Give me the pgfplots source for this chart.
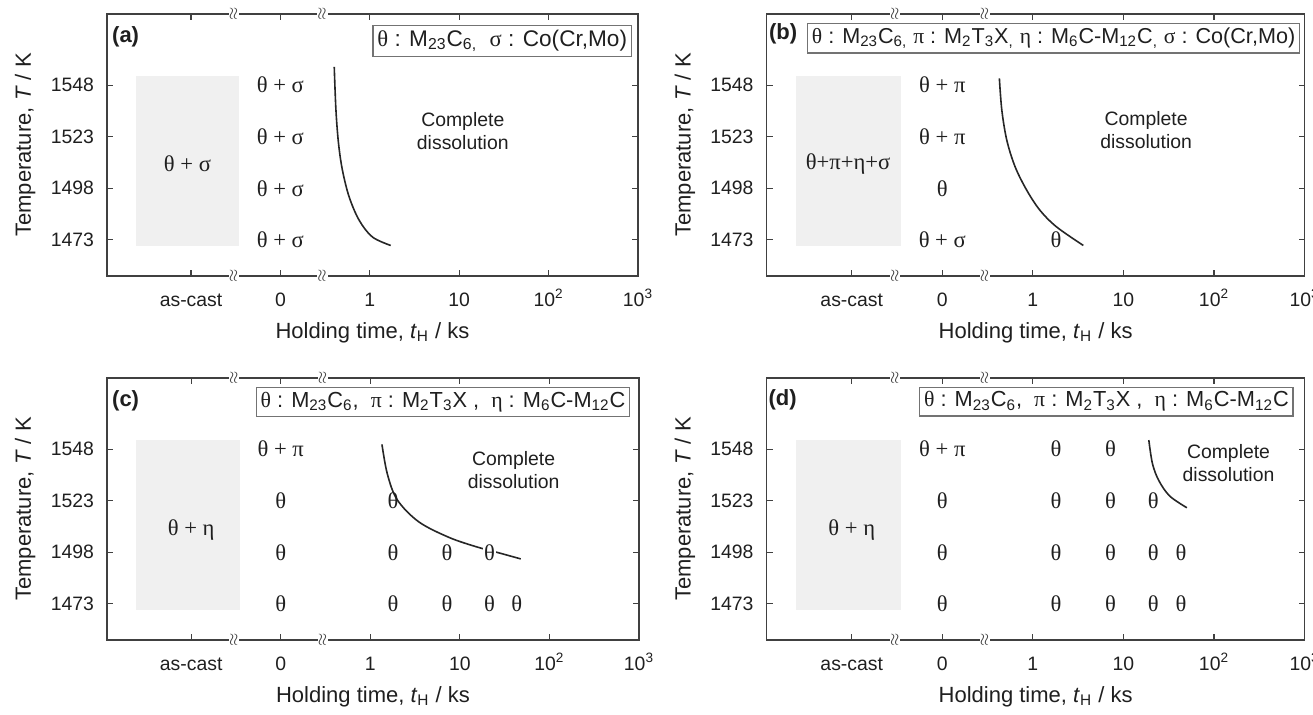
\documentclass[border=0pt]{standalone}
\usepackage{fontspec}
\setmainfont{Liberation Sans}
\newfontfamily\grk{Liberation Serif}
\usepackage{pgfplots}
\pgfplotsset{compat=1.18}
\definecolor{boxgray}{gray}{0.94}
\definecolor{axcol}{gray}{0.25}
\definecolor{txt}{gray}{0.12}
\definecolor{legcol}{gray}{0.45}
\newcommand\tickfont{\fontsize{9.7}{11.5}\selectfont}
\newcommand\labfont{\fontsize{11}{13}\selectfont}
\newcommand\grkfont{\grk\fontsize{11.3}{13}\selectfont}
\pgfplotsset{
  panel/.style={
    scale only axis, height=131pt,
    xmin=-2.94, xmax=3, ymin=1455.5, ymax=1582.5,
    xtick={-2,-1,0,1,2,3},
    xticklabels={as-cast,0,1,10,10\textsuperscript{2},10\textsuperscript{3}},
    ytick={1473,1498,1523,1548},
    yticklabels={1473,1498,1523,1548},
    xtick pos=both, ytick pos=both,
    xticklabel pos=lower, yticklabel pos=left,
    tick align=inside, major tick length=3pt,
    tick style={axcol, line width=0.6pt},
    axis line style={axcol, line width=0.8pt},
    xticklabel style={font=\tickfont, text=txt, text height=7pt, text depth=0pt, yshift=-4.5pt},
    yticklabel style={font=\tickfont, text=txt, xshift=-3pt},
    xlabel={Holding time, \textit{t}\textsubscript{H} / ks},
    ylabel={Temperature, \textit{T} / K},
    every axis x label/.style={at={(axis description cs:0.5,-0.215)}, anchor=center, font=\labfont, text=txt},
    every axis y label/.style={at={(axis description cs:-0.152,0.5)}, rotate=90, anchor=center, font=\labfont, text=txt},
    clip=false,
  },
  castbox/.style={fill=boxgray, draw=none, mark=none},
  curve/.style={smooth, tension=0.55, black!85, line width=0.8pt, mark=none},
  lab/.style={draw=none, mark=none, nodes near coords, point meta=explicit symbolic,
    nodes near coords align=center,
    every node near coord/.append style={font=\grkfont, text=txt, inner sep=0.5pt, anchor=center}},
  labw/.style={lab, every node near coord/.append style={fill=white}},
}
\tikzset{
  brk/.style={fill=white, inner sep=0.5pt, rotate=90, font=\fontsize{8}{8}\selectfont, text=axcol},
  leg/.style={draw=legcol, line width=0.7pt, fill=white, inner sep=2.2pt, text=txt},
  plab/.style={anchor=north west, inner sep=0pt, font=\bfseries\fontsize{11}{13}\selectfont, text=txt},
  cdis/.style={align=center, font=\fontsize{9.7}{11.5}\selectfont, text=txt},
}
\begin{document}
\begin{tikzpicture}
\useasboundingbox (0,0) rectangle (656.5pt,357.5pt);
% ---------------- (a)
\begin{axis}[panel, width=265.5pt, at={(53.5pt,219.5pt)}, anchor=south west,
  every axis y label/.style={at={(axis description cs:-0.154,0.5)}, rotate=90, anchor=center, font=\labfont, text=txt}]
\addplot[castbox] coordinates {(-2.62,1470) (-1.46,1470) (-1.46,1552.5) (-2.62,1552.5)} -- cycle;
\addplot[curve] coordinates {(-0.398,1556.9) (-0.379,1535.9) (-0.350,1519.7) (-0.306,1506.7) (-0.231,1493.8) (-0.119,1482.5) (0.029,1474.4) (0.234,1470.3)};
\addplot[lab] coordinates {(-1,1548) [θ + σ] (-1,1523) [θ + σ] (-1,1498) [θ + σ] (-1,1473) [θ + σ]};
\node[font=\grkfont, text=txt] at (axis cs:-2.04,1510) {θ + σ};
\node[cdis] at (axis cs:1.04,1525.7) {Complete\\dissolution};
\node[leg, anchor=north east, font=\fontsize{11.3}{13}\selectfont] at (rel axis cs:0.989,0.958)
  {{\grk θ} : M\textsubscript{23}C\textsubscript{6,}\ \ {\grk σ} : Co(Cr,Mo)};
\node[plab] at (rel axis cs:0.009,0.952) {(a)};
\coordinate (aT1) at (axis cs:-1.52,1582.5); \coordinate (aT2) at (axis cs:-0.53,1582.5);
\coordinate (aB1) at (axis cs:-1.52,1455.5); \coordinate (aB2) at (axis cs:-0.53,1455.5);
\end{axis}
% ---------------- (b)
\begin{axis}[panel, width=269pt, at={(383.3pt,219.5pt)}, anchor=south west]
\addplot[castbox] coordinates {(-2.62,1470) (-1.46,1470) (-1.46,1552.5) (-2.62,1552.5)} -- cycle;
\addplot[curve] coordinates {(-0.370,1551.3) (-0.343,1535.9) (-0.288,1521.3) (-0.196,1508.4) (-0.067,1497.0) (0.079,1487.3) (0.264,1479.2) (0.557,1470.3)};
\addplot[lab] coordinates {(-1,1548) [θ + π] (-1,1523) [θ + π] (-1,1498) [θ] (-1,1473) [θ + σ] (0.255,1473) [θ]};
\node[font=\grkfont, text=txt] at (axis cs:-2.04,1510) {θ+π+η+σ};
\node[cdis] at (axis cs:1.25,1526) {Complete\\dissolution};
\node[leg, anchor=north east, font=\fontsize{10.8}{12.5}\selectfont] at (rel axis cs:0.992,0.967)
  {{\grk θ} : M\textsubscript{23}C\textsubscript{6,} {\grk π} : M\textsubscript{2}T\textsubscript{3}X\textsubscript{,} {\grk η} : M\textsubscript{6}C-M\textsubscript{12}C\textsubscript{,} {\grk σ} : Co(Cr,Mo)};
\node[plab] at (rel axis cs:0.004,0.964) {(b)};
\coordinate (bT1) at (axis cs:-1.52,1582.5); \coordinate (bT2) at (axis cs:-0.53,1582.5);
\coordinate (bB1) at (axis cs:-1.52,1455.5); \coordinate (bB2) at (axis cs:-0.53,1455.5);
\end{axis}
% ---------------- (c)
\begin{axis}[panel, width=266pt, at={(53.5pt,37.5pt)}, anchor=south west,
  every axis y label/.style={at={(axis description cs:-0.154,0.5)}, rotate=90, anchor=center, font=\labfont, text=txt}]
\addplot[castbox] coordinates {(-2.62,1470) (-1.46,1470) (-1.46,1552.5) (-2.62,1552.5)} -- cycle;
\addplot[curve] coordinates {(0.13,1550.3) (0.19,1536) (0.30,1523.5) (0.54,1512.8) (0.88,1505.2) (1.19,1500.6) (1.43,1497.8) (1.68,1494.8)};
\addplot[lab] coordinates {(-1,1548) [θ + π]
  (-1,1523) [θ] (0.255,1523) [θ]
  (-1,1498) [θ] (0.255,1498) [θ] (0.857,1498) [θ]
  (-1,1473) [θ] (0.255,1473) [θ] (0.857,1473) [θ] (1.33,1473) [θ] (1.635,1473) [θ]};
\addplot[labw] coordinates {(1.33,1498) [θ]};
\node[font=\grkfont, text=txt] at (axis cs:-2.0,1509) {θ + η};
\node[cdis] at (axis cs:1.6,1537.8) {Complete\\dissolution};
\node[leg, anchor=north east, font=\fontsize{10.9}{12.5}\selectfont] at (rel axis cs:0.984,0.966)
  {{\grk θ} : M\textsubscript{23}C\textsubscript{6},\ \ {\grk π} : M\textsubscript{2}T\textsubscript{3}X\ ,\ \ {\grk η} : M\textsubscript{6}C-M\textsubscript{12}C};
\node[plab] at (rel axis cs:0.009,0.954) {(c)};
\coordinate (cT1) at (axis cs:-1.52,1582.5); \coordinate (cT2) at (axis cs:-0.53,1582.5);
\coordinate (cB1) at (axis cs:-1.52,1455.5); \coordinate (cB2) at (axis cs:-0.53,1455.5);
\end{axis}
% ---------------- (d)
\begin{axis}[panel, width=269pt, at={(383.3pt,37.5pt)}, anchor=south west]
\addplot[castbox] coordinates {(-2.62,1470) (-1.46,1470) (-1.46,1552.5) (-2.62,1552.5)} -- cycle;
\addplot[curve] coordinates {(1.28,1552.4) (1.32,1541) (1.39,1532.8) (1.51,1525.3) (1.70,1519.6)};
\addplot[lab] coordinates {(-1,1548) [θ + π] (0.255,1548) [θ] (0.857,1548) [θ]
  (-1,1523) [θ] (0.255,1523) [θ] (0.857,1523) [θ] (1.33,1523) [θ]
  (-1,1498) [θ] (0.255,1498) [θ] (0.857,1498) [θ] (1.33,1498) [θ] (1.635,1498) [θ]
  (-1,1473) [θ] (0.255,1473) [θ] (0.857,1473) [θ] (1.33,1473) [θ] (1.635,1473) [θ]};
\node[font=\grkfont, text=txt] at (axis cs:-2.0,1509) {θ + η};
\node[cdis] at (axis cs:2.16,1541.5) {Complete\\dissolution};
\node[leg, anchor=north east, font=\fontsize{10.9}{12.5}\selectfont] at (rel axis cs:0.98,0.967)
  {{\grk θ} : M\textsubscript{23}C\textsubscript{6},\ \ {\grk π} : M\textsubscript{2}T\textsubscript{3}X\ ,\ \ {\grk η} : M\textsubscript{6}C-M\textsubscript{12}C};
\node[plab] at (rel axis cs:0.003,0.958) {(d)};
\coordinate (dT1) at (axis cs:-1.52,1582.5); \coordinate (dT2) at (axis cs:-0.53,1582.5);
\coordinate (dB1) at (axis cs:-1.52,1455.5); \coordinate (dB2) at (axis cs:-0.53,1455.5);
\end{axis}
\foreach \c in {aT1,aT2,aB1,aB2,bT1,bT2,bB1,bB2,cT1,cT2,cB1,cB2,dT1,dT2,dB1,dB2}
  \node[brk] at (\c) {$\approx$};
\end{tikzpicture}
\end{document}
